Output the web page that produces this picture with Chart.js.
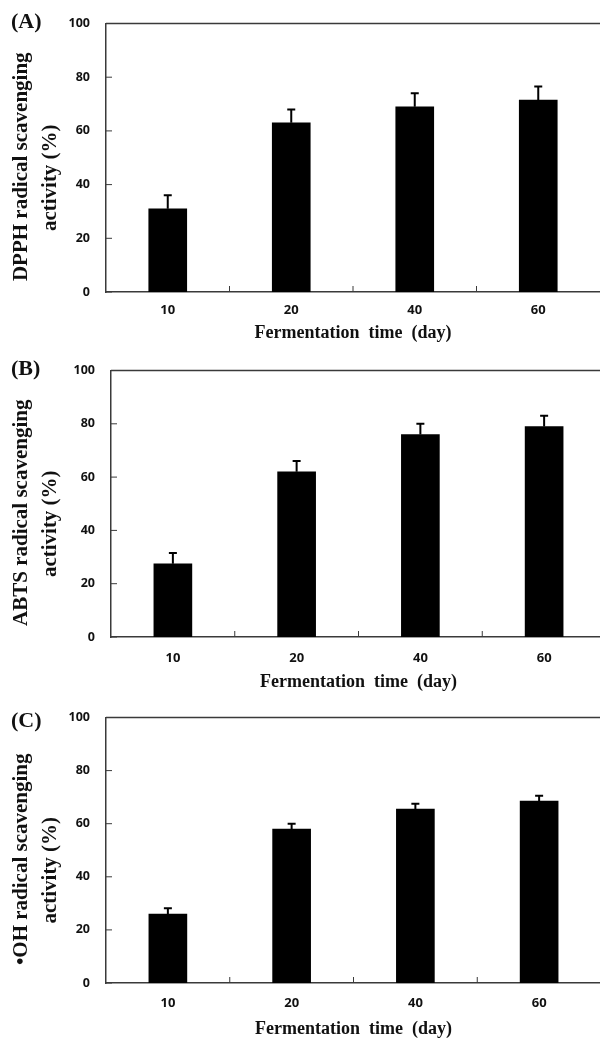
<!DOCTYPE html>
<html>
<head>
<meta charset="utf-8">
<script src="https://cdn.jsdelivr.net/npm/chart.js@4.4.0/dist/chart.umd.min.js"></script>
<style>
  html, body { margin: 0; padding: 0; background: #fff; overflow: hidden; }
  body { width: 600px; height: 1041px; position: relative; }
  .panel { position: absolute; left: 0; height: 347px; }
  .tag { position: absolute; left: 11px; font: bold 22px "Liberation Serif", serif; color: #111; }
</style>
</head>
<body>
<div class="panel" style="top:0;width:600px"><canvas id="graphA"></canvas></div>
<div class="panel" style="top:347px;width:606px"><canvas id="graphB"></canvas></div>
<div class="panel" style="top:694px;width:601px"><canvas id="graphC"></canvas></div>
<div class="tag" style="top:8px">(A)</div>
<div class="tag" style="top:355px">(B)</div>
<div class="tag" style="top:707px">(C)</div>

<script>
// donnees
const days = ['10', '20', '40', '60'];
const yTicks = [0, 20, 40, 60, 80, 100];

const dpphMeans = [31, 63, 69, 71.5];
const dpphErr = [5, 5, 5, 5];

const abtsMeans = [27.5, 62, 76, 79];
const abtsErr = [4, 4, 4, 4];

const ohMeans = [26, 58, 65.5, 68.5];
const ohErr = [2.2, 2, 2, 2];

const axisColor = '#3a3a3a';

// barres d'erreur (seulement vers le haut)
const errorBarPlugin = {
    id: 'errorBarPlugin',
    afterDatasetsDraw: (chart) => {
        const ctx = chart.ctx;
        const yScale = chart.scales.y;
        chart.data.datasets.forEach((ds, i) => {
            const meta = chart.getDatasetMeta(i);
            meta.data.forEach((bar, j) => {
                const yTop = yScale.getPixelForValue(ds.data[j] + ds.errors[j]);
                ctx.save();
                ctx.strokeStyle = '#000';
                ctx.lineWidth = 2;
                ctx.beginPath();
                ctx.moveTo(bar.x, bar.y);
                ctx.lineTo(bar.x, yTop);
                ctx.moveTo(bar.x - 4, yTop);
                ctx.lineTo(bar.x + 4, yTop);
                ctx.stroke();
                ctx.restore();
            });
        });
    }
};

// cadre du haut + petites graduations vers l'interieur
const framePlugin = {
    id: 'framePlugin',
    afterDraw: (chart) => {
        const ctx = chart.ctx;
        const area = chart.chartArea;
        const x = chart.scales.x;
        const y = chart.scales.y;
        ctx.save();
        ctx.strokeStyle = axisColor;
        ctx.lineWidth = 1.5;
        ctx.beginPath();
        ctx.moveTo(area.left, area.top);
        ctx.lineTo(chart.width, area.top);
        ctx.stroke();

        ctx.lineWidth = 1;
        ctx.beginPath();
        y.ticks.forEach((t) => {
            const py = y.getPixelForValue(t.value);
            ctx.moveTo(area.left, py);
            ctx.lineTo(area.left + 6, py);
        });
        for (let i = 1; i < days.length; i++) {
            const px = (x.getPixelForValue(i - 1) + x.getPixelForValue(i)) / 2;
            ctx.moveTo(px, area.bottom);
            ctx.lineTo(px, area.bottom - 6);
        }
        ctx.stroke();
        ctx.restore();
    }
};

// titre de l'axe y sur deux lignes (un peu decale vers le bas comme sur la figure)
const yTitlePlugin = {
    id: 'yTitlePlugin',
    afterDraw: (chart, args, opts) => {
        const ctx = chart.ctx;
        const area = chart.chartArea;
        const mid = (area.top + area.bottom) / 2;
        ctx.save();
        ctx.fillStyle = '#111';
        ctx.font = 'bold 21px "Liberation Serif"';
        ctx.textAlign = 'center';
        ctx.textBaseline = 'middle';
        opts.lines.forEach((line, i) => {
            ctx.save();
            ctx.translate(i === 0 ? 22 : 51, mid + (i === 0 ? 9 : 20));
            ctx.rotate(-Math.PI / 2);
            ctx.fillText(line, 0, 0);
            ctx.restore();
        });
        ctx.restore();
    }
};

function buildChart(id, means, errs, yTitle, box) {
    const ctx = document.getElementById(id).getContext('2d');
    return new Chart(ctx, {
        type: 'bar',
        data: {
            labels: days,
            datasets: [{
                data: means,
                errors: errs,
                backgroundColor: '#000',
                barThickness: 38
            }]
        },
        options: {
            responsive: true,
            maintainAspectRatio: false,
            animation: false,
            layout: {
                padding: { top: box.top, right: 0, bottom: 0, left: 0 }
            },
            plugins: {
                legend: { display: false },
                tooltip: { enabled: false },
                yTitlePlugin: { lines: yTitle }
            },
            scales: {
                x: {
                    grid: { display: false, drawTicks: false },
                    border: { display: true, color: axisColor, width: 1.5 },
                    ticks: {
                        color: '#111',
                        padding: box.tickPad,
                        font: { family: 'Open Sans', weight: 'bold', size: 13 }
                    },
                    title: {
                        display: true,
                        text: 'Fermentation  time  (day)',
                        color: '#111',
                        padding: { top: 0, bottom: box.titlePad },
                        font: { family: 'Liberation Serif', weight: 'bold', size: 18, lineHeight: 1.2 }
                    },
                    afterFit: (scale) => { scale.height = 347 - box.bottom; }
                },
                y: {
                    min: 0,
                    max: 100,
                    afterBuildTicks: (scale) => { scale.ticks = yTicks.map(v => ({ value: v })); },
                    grid: { display: false, drawTicks: false },
                    border: { display: true, color: axisColor, width: 1.5 },
                    ticks: {
                        color: '#111',
                        padding: 16,
                        font: { family: 'Open Sans', weight: 'bold', size: 12.5 }
                    },
                    afterFit: (scale) => { scale.width = box.left; }
                }
            }
        },
        plugins: [errorBarPlugin, framePlugin, yTitlePlugin]
    });
}

buildChart('graphA', dpphMeans, dpphErr, ['DPPH radical scavenging', 'activity (%)'],
    { top: 20, bottom: 292, left: 106, tickPad: 10, titlePad: 3 });
buildChart('graphB', abtsMeans, abtsErr, ['ABTS radical scavenging', 'activity (%)'],
    { top: 20, bottom: 290, left: 111, tickPad: 13, titlePad: 1 });
buildChart('graphC', ohMeans, ohErr, ['\u2022OH radical scavenging', 'activity (%)'],
    { top: 18, bottom: 289, left: 106, tickPad: 12, titlePad: 1 });
</script>
</body>
</html>
